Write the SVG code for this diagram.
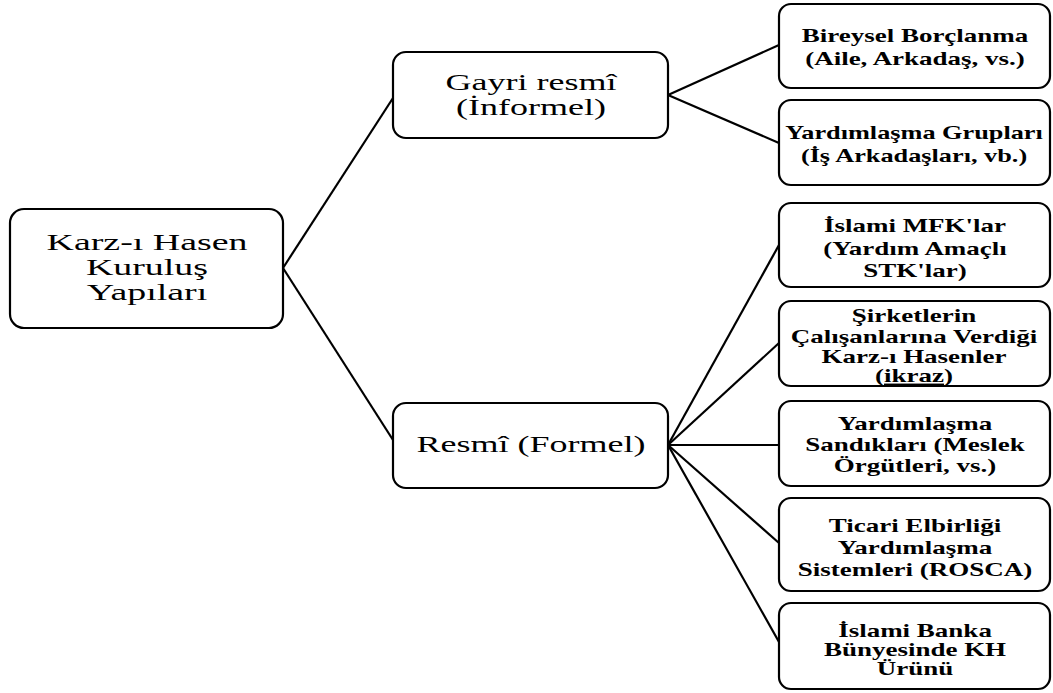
<svg xmlns="http://www.w3.org/2000/svg" width="1053" height="693" viewBox="0 0 1053 693">
<style>
.box{fill:#fff;stroke:#000;stroke-width:2.2}
.conn line{stroke:#000;stroke-width:2.2}
.big{font-family:"Liberation Serif","Times New Roman",serif;font-size:24px;fill:#000;text-anchor:middle}
.sm{font-family:"Liberation Serif","Times New Roman",serif;font-size:18px;font-weight:bold;fill:#000;text-anchor:middle}
</style>
<rect width="1053" height="693" fill="#fff"/>
<g class="conn" id="connectors">
<line x1="283" y1="268" x2="393" y2="98"/>
<line x1="283" y1="268" x2="393" y2="440"/>
<line x1="668" y1="95" x2="779" y2="45"/>
<line x1="668" y1="95" x2="779" y2="143"/>
<line x1="668" y1="445" x2="779" y2="245"/>
<line x1="668" y1="445" x2="779" y2="343"/>
<line x1="668" y1="445" x2="779" y2="445"/>
<line x1="668" y1="445" x2="779" y2="543"/>
<line x1="668" y1="445" x2="779" y2="642"/>
</g>
<g id="root">
<rect class="box" x="10" y="209" width="273" height="119" rx="14"/>
<g transform="translate(147,0) scale(1.58,1)" class="big">
<text x="0" y="250">Karz-ı Hasen</text>
<text x="0" y="275">Kuruluş</text>
<text x="0" y="300">Yapıları</text>
</g>
</g>
<g id="informal">
<rect class="box" x="393" y="52" width="275" height="86" rx="13"/>
<g transform="translate(531,0) scale(1.5,1)" class="big">
<text x="0" y="90">Gayri resmî</text>
<text x="0" y="115">(İnformel)</text>
</g>
</g>
<g id="formal">
<rect class="box" x="393" y="403" width="275" height="85" rx="13"/>
<g transform="translate(531,0) scale(1.5,1)" class="big">
<text x="0" y="452">Resmî (Formel)</text>
</g>
</g>
<g id="n1">
<rect class="box" x="779" y="4" width="271" height="84" rx="12"/>
<g transform="translate(915,0) scale(1.5,1)" class="sm">
<text x="0" y="42">Bireysel Borçlanma</text>
<text x="0" y="65">(Aile, Arkadaş, vs.)</text>
</g>
</g>
<g id="n2">
<rect class="box" x="779" y="100" width="271" height="85" rx="12"/>
<g transform="translate(914,0) scale(1.46,1)" class="sm">
<text x="0" y="139">Yardımlaşma Grupları</text>
<text x="0" y="162">(İş Arkadaşları, vb.)</text>
</g>
</g>
<g id="n3">
<rect class="box" x="779" y="203" width="271" height="84" rx="12"/>
<g transform="translate(915,0) scale(1.5,1)" class="sm">
<text x="0" y="232">İslami MFK'lar</text>
<text x="0" y="255">(Yardım Amaçlı</text>
<text x="0" y="277">STK'lar)</text>
</g>
</g>
<g id="n4">
<rect class="box" x="779" y="301" width="271" height="85" rx="12"/>
<g transform="translate(914,0) scale(1.5,1)" class="sm">
<text x="0" y="322">Şirketlerin</text>
<text x="0" y="343">Çalışanlarına Verdiği</text>
<text x="0" y="363">Karz-ı Hasenler</text>
<text x="0" y="382">(<tspan text-decoration="underline">ikraz</tspan>)</text>
</g>
</g>
<g id="n5">
<rect class="box" x="779" y="401" width="271" height="85" rx="12"/>
<g transform="translate(915,0) scale(1.5,1)" class="sm">
<text x="0" y="430">Yardımlaşma</text>
<text x="0" y="451">Sandıkları (Meslek</text>
<text x="0" y="472">Örgütleri, vs.)</text>
</g>
</g>
<g id="n6">
<rect class="box" x="779" y="498" width="271" height="93" rx="12"/>
<g transform="translate(915,0) scale(1.5,1)" class="sm">
<text x="0" y="532">Ticari Elbirliği</text>
<text x="0" y="554">Yardımlaşma</text>
<text x="0" y="576">Sistemleri (ROSCA)</text>
</g>
</g>
<g id="n7">
<rect class="box" x="779" y="603" width="271" height="86" rx="12"/>
<g transform="translate(915,0) scale(1.5,1)" class="sm">
<text x="0" y="637">İslami Banka</text>
<text x="0" y="656">Bünyesinde KH</text>
<text x="0" y="675">Ürünü</text>
</g>
</g>
</svg>
